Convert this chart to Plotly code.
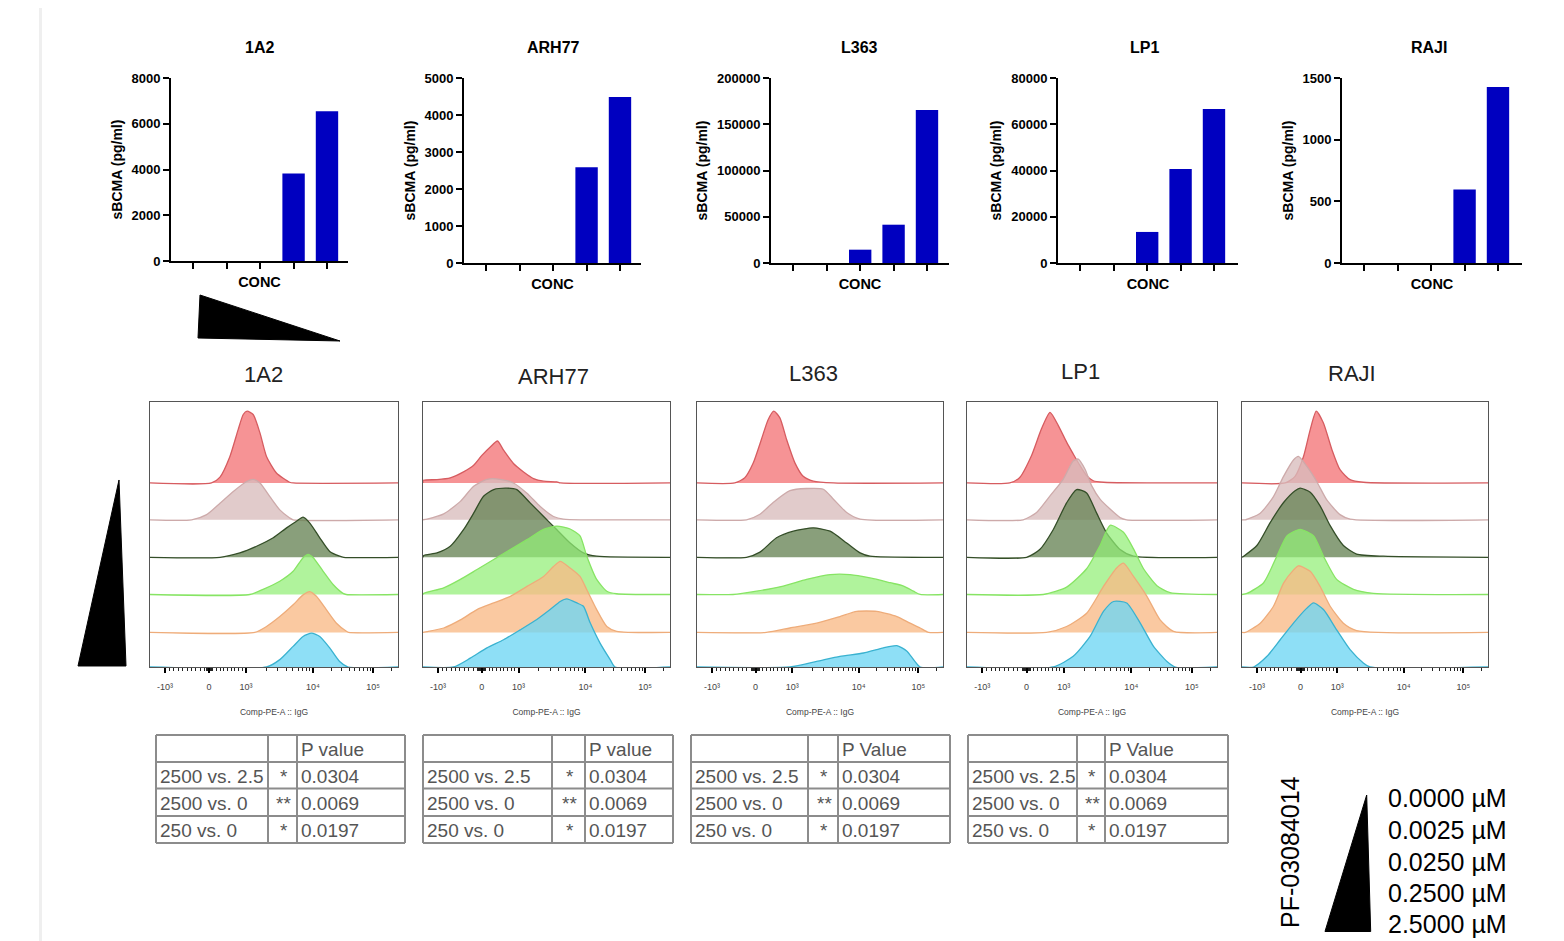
import math
import plotly.graph_objects as go

W, H = 1564, 941          # target page size (pixels)
BODY = 8                  # default page body margin in the browser
FW, FH = W - BODY, H - BODY
FONT = "Liberation Sans, Arial, sans-serif"

# ---------------- data: sBCMA bar charts ----------------
CELL_LINES = ["1A2", "ARH77", "L363", "LP1", "RAJI"]
CONC_CATEGORIES = ["2.5 µM", "0.25 µM", "0.025 µM", "0.0025 µM", "0 µM"]
SBCMA_1A2 = [0, 0, 0, 3830, 6550]
SBCMA_ARH77 = [0, 0, 0, 2590, 4486]
SBCMA_L363 = [0, 0, 14400, 41400, 165400]
SBCMA_LP1 = [0, 0, 13430, 40700, 66570]
SBCMA_RAJI = [0, 0, 0, 595, 1427]
SBCMA = [SBCMA_1A2, SBCMA_ARH77, SBCMA_L363, SBCMA_LP1, SBCMA_RAJI]
BAR_Y_MAX = [8000, 5000, 200000, 80000, 1500]
BAR_Y_STEP = [2000, 1000, 50000, 20000, 500]

# ---------------- data: flow histograms (display channel 0-1024, relative height) ----------------
# rows top->bottom: red, rosy, dark green, light green, orange, cyan
X_1A2 = [
    [254, 289, 330, 364, 385, 401, 426, 454, 481, 522, 577, 591],
    [172, 234, 289, 344, 399, 426, 454, 495, 536, 577, 591],
    [289, 371, 440, 509, 564, 605, 632, 660, 701, 742, 783, 800],
    [412, 467, 536, 591, 632, 653, 674, 715, 756, 797, 810],
    [433, 481, 536, 591, 632, 660, 687, 728, 770, 811, 820],
    [481, 536, 591, 632, 667, 701, 742, 783, 818],
]
Y_1A2 = [
    [0, 0.16, 0.72, 1.45, 1.86, 1.95, 1.86, 1.36, 0.72, 0.27, 0.02, 0],
    [0, 0.14, 0.45, 0.77, 1.04, 1.10, 1.0, 0.63, 0.27, 0.05, 0],
    [0, 0.12, 0.30, 0.53, 0.80, 0.98, 1.09, 0.93, 0.53, 0.16, 0.03, 0],
    [0, 0.14, 0.36, 0.63, 1.0, 1.09, 1.0, 0.63, 0.27, 0.03, 0],
    [0, 0.16, 0.43, 0.75, 1.02, 1.11, 0.98, 0.62, 0.25, 0.03, 0],
    [0, 0.2, 0.56, 0.83, 0.92, 0.83, 0.52, 0.15, 0],
]
X_ARH77 = [
    [0, 58, 113, 168, 210, 244, 279, 309, 334, 375, 417, 458, 500, 555, 570],
    [17, 86, 155, 210, 265, 320, 375, 431, 486, 541, 582],
    [3, 58, 113, 168, 210, 251, 293, 348, 389, 444, 500, 555, 610, 665, 720],
    [3, 86, 155, 224, 293, 362, 431, 500, 555, 610, 651, 679, 720, 762, 803],
    [17, 86, 155, 224, 293, 362, 431, 500, 541, 569, 610, 651, 679, 720, 762, 803],
    [127, 196, 265, 334, 403, 472, 527, 569, 596, 638, 665, 693, 734, 776, 796],
]
Y_ARH77 = [
    [0.07, 0.09, 0.14, 0.30, 0.48, 0.75, 0.98, 1.14, 0.89, 0.53, 0.30, 0.12, 0.05, 0.03, 0],
    [0.02, 0.16, 0.5, 0.91, 1.1, 1.1, 1.0, 0.72, 0.36, 0.09, 0.02],
    [0.05, 0.12, 0.30, 0.75, 1.2, 1.66, 1.84, 1.88, 1.84, 1.48, 1.11, 0.75, 0.39, 0.12, 0.03],
    [0.03, 0.18, 0.41, 0.68, 0.95, 1.22, 1.49, 1.77, 1.86, 1.78, 1.59, 1.04, 0.41, 0.09, 0.02],
    [0.02, 0.12, 0.34, 0.62, 0.80, 0.98, 1.25, 1.52, 1.79, 1.93, 1.75, 1.52, 1.16, 0.62, 0.16, 0.03],
    [0, 0.24, 0.52, 0.74, 1.01, 1.29, 1.56, 1.78, 1.85, 1.74, 1.65, 1.2, 0.65, 0.2, 0],
]
X_L363 = [
    [157, 199, 234, 268, 296, 320, 345, 373, 408, 442, 484, 568],
    [206, 262, 317, 387, 456, 526, 568, 623, 679],
    [206, 262, 331, 401, 484, 554, 623, 679, 720],
    [150, 248, 359, 456, 554, 637, 720, 804, 860, 901, 929],
    [289, 387, 498, 595, 665, 748, 832, 887, 929, 964],
    [387, 498, 595, 693, 776, 832, 874, 929],
]
Y_L363 = [
    [0, 0.14, 0.54, 1.18, 1.72, 1.95, 1.77, 1.18, 0.54, 0.18, 0.05, 0],
    [0, 0.15, 0.47, 0.79, 0.85, 0.83, 0.56, 0.2, 0.02],
    [0, 0.14, 0.53, 0.71, 0.80, 0.71, 0.39, 0.12, 0.03],
    [0, 0.09, 0.23, 0.41, 0.54, 0.54, 0.45, 0.32, 0.23, 0.09, 0],
    [0, 0.12, 0.25, 0.43, 0.57, 0.57, 0.43, 0.25, 0.12, 0],
    [0, 0.15, 0.29, 0.38, 0.52, 0.58, 0.43, 0],
]
X_LP1 = [
    [175, 216, 264, 305, 340, 374, 408, 435, 463, 490, 517, 559],
    [230, 285, 340, 394, 435, 456, 483, 511, 545, 586, 627, 654],
    [244, 298, 353, 408, 449, 490, 531, 572, 627, 682],
    [312, 408, 490, 545, 586, 641, 682, 723, 778, 832],
    [326, 408, 490, 559, 613, 641, 682, 737, 791, 846],
    [353, 435, 504, 559, 600, 654, 709, 764, 819, 853],
]
Y_LP1 = [
    [0, 0.15, 0.74, 1.47, 1.92, 1.56, 1.11, 0.79, 0.47, 0.2, 0.06, 0.02],
    [0, 0.2, 0.65, 1.1, 1.6, 1.65, 1.38, 0.92, 0.56, 0.29, 0.06, 0],
    [0, 0.21, 0.75, 1.48, 1.84, 1.75, 1.2, 0.66, 0.21, 0.03],
    [0, 0.2, 0.70, 1.33, 1.88, 1.69, 1.24, 0.70, 0.24, 0.05],
    [0, 0.16, 0.52, 1.25, 1.75, 1.88, 1.52, 0.98, 0.34, 0.03],
    [0, 0.29, 0.83, 1.51, 1.78, 1.74, 1.2, 0.56, 0.15, 0],
]
X_RAJI = [
    [180, 221, 256, 284, 309, 339, 374, 408, 450, 505],
    [14, 76, 131, 173, 215, 235, 270, 311, 353, 408, 450],
    [7, 62, 118, 173, 221, 242, 284, 325, 367, 422, 477, 588],
    [21, 90, 145, 187, 242, 298, 339, 394, 464, 547],
    [14, 76, 131, 173, 215, 235, 284, 325, 367, 422, 477],
    [48, 104, 159, 215, 270, 298, 339, 394, 450, 505, 533],
]
Y_RAJI = [
    [0, 0.18, 0.72, 1.45, 1.95, 1.63, 0.91, 0.36, 0.09, 0.02],
    [0, 0.18, 0.63, 1.18, 1.63, 1.72, 1.45, 1.04, 0.54, 0.14, 0.02],
    [0.03, 0.32, 0.95, 1.49, 1.81, 1.88, 1.77, 1.4, 0.86, 0.32, 0.09, 0.03],
    [0.03, 0.32, 1.04, 1.59, 1.77, 1.59, 1.04, 0.41, 0.14, 0.03],
    [0, 0.25, 0.71, 1.34, 1.70, 1.81, 1.66, 1.25, 0.71, 0.25, 0.05],
    [0, 0.29, 0.74, 1.2, 1.6, 1.74, 1.56, 1.01, 0.47, 0.11, 0],
]
FLOW_X = [X_1A2, X_ARH77, X_L363, X_LP1, X_RAJI]
FLOW_Y = [Y_1A2, Y_ARH77, Y_L363, Y_LP1, Y_RAJI]
FLOW_TICK_CHANNELS = [62, 244, 396, 673, 921]
FLOW_TICK_TEXT = ["-10³", "0", "10³", "10⁴", "10⁵"]

# ---------------- data: tables & legend ----------------
TABLE_HEADERS = ["P value", "P value", "P Value", "P Value"]
COMPARISONS = ["2500 vs. 2.5", "2500 vs. 0", "250 vs. 0"]
SIGNIFICANCE = ["*", "**", "*"]
P_VALUES = ["0.0304", "0.0069", "0.0197"]
COMPOUND = "PF-03084014"
CONC_LABELS = ["0.0000 µM", "0.0025 µM", "0.0250 µM", "0.2500 µM", "2.5000 µM"]

# ---------------- styling / layout (page pixels) ----------------
BAR_BOXES = [(171, 348, 78, 261), (464, 641, 78, 263), (771, 949, 78, 263),
             (1058, 1238, 78, 263), (1342, 1522, 78, 263)]
BAR_TITLE_X = [259, 553, 859, 1144, 1429]
FLOW_BOXES = [(150, 398), (423, 670), (697, 943), (967, 1217), (1242, 1488)]
FLOW_TOP, FLOW_BOTTOM = 402, 667
FLOW_TITLE_POS = [(264, 375), (553, 376), (813, 373), (1080, 372), (1352, 373)]
ROW_OFFSETS = [5.0, 4.0, 2.98, 1.97, 0.94, 0.0]
ROW_LINE = ["rgb(214,92,96)", "rgb(205,170,170)", "rgb(52,78,40)",
            "rgb(135,228,100)", "rgb(238,172,122)", "rgb(58,178,208)"]
ROW_FILL = ["rgba(244,128,130,0.85)", "rgba(216,188,188,0.78)", "rgba(104,132,86,0.78)",
            "rgba(146,238,118,0.72)", "rgba(249,186,134,0.78)", "rgba(110,214,244,0.78)"]
TABLE_COLS = [(156, 268, 297, 405), (423, 552, 585, 673), (691, 808, 838, 950), (968, 1077, 1105, 1228)]
TABLE_ROWS = [735, 762, 788.5, 816, 843]


def fx(x):
    return (x - BODY) / FW


def fy(y):
    return 1 - (y - BODY) / FH


fig = go.Figure()
layout = dict(
    width=FW, height=FH, margin=dict(l=0, r=0, t=0, b=0, autoexpand=False),
    paper_bgcolor="white", plot_bgcolor="white", showlegend=False,
    font=dict(family=FONT, color="black"),
)
annotations = []
shapes = []

# ---------------- bar charts ----------------
for i, name in enumerate(CELL_LINES):
    n = i + 1
    ax = "" if n == 1 else str(n)
    x0, x1, yt, yb = BAR_BOXES[i]
    span = (x1 - x0) / 33.4
    fig.add_trace(go.Bar(x=CONC_CATEGORIES, y=SBCMA[i], marker=dict(color="#0000c0", line=dict(width=0)),
                         width=0.67, xaxis="x" + ax, yaxis="y" + ax, hoverinfo="y"))
    layout["xaxis" + ax] = dict(
        domain=[fx(x0), fx(x1)], anchor="y" + ax, range=[-0.67, span - 0.67], type="category",
        showline=True, linecolor="black", linewidth=1.8, ticks="outside", ticklen=6,
        tickwidth=1.8, tickcolor="black", showticklabels=False, showgrid=False, zeroline=False,
        title=dict(text="CONC", standoff=9, font=dict(size=14.5, weight="bold", family=FONT)),
        fixedrange=True,
    )
    layout["yaxis" + ax] = dict(
        domain=[fy(yb), fy(yt)], anchor="x" + ax, range=[0, BAR_Y_MAX[i]],
        tickvals=list(range(0, BAR_Y_MAX[i] + 1, BAR_Y_STEP[i])), tickformat="d",
        showline=True, linecolor="black", linewidth=1.8, ticks="outside", ticklen=6,
        tickwidth=1.8, tickcolor="black", showgrid=False, zeroline=False,
        tickfont=dict(size=13, weight="bold", family=FONT),
        title=dict(text="sBCMA (pg/ml)", standoff=6, font=dict(size=14, weight="bold", family=FONT)),
        fixedrange=True,
    )
    annotations.append(dict(text=name, x=fx(BAR_TITLE_X[i]), y=fy(48), xref="paper", yref="paper",
                            showarrow=False, font=dict(size=16, weight="bold", family=FONT),
                            xanchor="center", yanchor="middle"))

# ---------------- flow histograms ----------------
minor_vals = []
for v in range(-900, 0, 100):
    minor_vals.append(244 + v / 1000 * (244 - 62))
for v in range(100, 1000, 100):
    minor_vals.append(244 + v / 1000 * (396 - 244))
for v in list(range(-90, 0, 15)) + list(range(15, 100, 15)):
    minor_vals.append(244 + v / 100 * 14)
for k in range(2, 10):
    minor_vals.append(396 + math.log10(k) * 277)
    minor_vals.append(673 + math.log10(k) * 248)
minor_vals.append(921 + math.log10(2) * 248)

for i, name in enumerate(CELL_LINES):
    n = i + 6
    ax = str(n)
    x0, x1 = FLOW_BOXES[i]
    for r in range(6):
        off = ROW_OFFSETS[r]
        xs = [0] + FLOW_X[i][r] + [1024]
        ys = [off] + [off + h for h in FLOW_Y[i][r]] + [off]
        fig.add_trace(go.Scatter(
            x=xs, y=ys, mode="lines", xaxis="x" + ax, yaxis="y" + ax,
            line=dict(color=ROW_LINE[r], width=1.3, shape="spline", smoothing=0.6),
            fill="toself", fillcolor=ROW_FILL[r], hoverinfo="skip"))
    layout["xaxis" + ax] = dict(
        domain=[fx(x0), fx(x1)], anchor="y" + ax, range=[0, 1024],
        showline=True, mirror=True, linecolor="#555555", linewidth=1.3,
        tickmode="array", tickvals=FLOW_TICK_CHANNELS, ticktext=FLOW_TICK_TEXT,
        ticks="outside", ticklen=5, tickwidth=1.5, tickcolor="black",
        ticklabelstandoff=6,
        tickfont=dict(size=9, color="#444444", family=FONT),
        minor=dict(tickmode="array", tickvals=minor_vals, ticks="outside", ticklen=3,
                   tickwidth=1, tickcolor="#222222", showgrid=False),
        showgrid=False, zeroline=False, fixedrange=True,
        title=dict(text="Comp-PE-A :: IgG", standoff=18, font=dict(size=8.5, color="#444444", family=FONT)),
    )
    layout["yaxis" + ax] = dict(
        domain=[fy(FLOW_BOTTOM), fy(FLOW_TOP)], anchor="x" + ax, range=[0, 7.2],
        showline=True, mirror=True, linecolor="#555555", linewidth=1.3,
        showticklabels=False, ticks="", showgrid=False, zeroline=False, fixedrange=True,
    )
    tx, ty = FLOW_TITLE_POS[i]
    annotations.append(dict(text=name, x=fx(tx), y=fy(ty), xref="paper", yref="paper",
                            showarrow=False, font=dict(size=22, color="#222222", family=FONT),
                            xanchor="center", yanchor="middle"))

# ---------------- tables ----------------
tcolor = "#555555"
for t, (c0, c1, c2, c3) in enumerate(TABLE_COLS):
    for yv in TABLE_ROWS:
        shapes.append(dict(type="line", xref="paper", yref="paper", x0=fx(c0), x1=fx(c3),
                           y0=fy(yv), y1=fy(yv), line=dict(color="#8c8c8c", width=2)))
    for xv in (c0, c1, c2, c3):
        shapes.append(dict(type="line", xref="paper", yref="paper", x0=fx(xv), x1=fx(xv),
                           y0=fy(TABLE_ROWS[0]), y1=fy(TABLE_ROWS[-1]), line=dict(color="#8c8c8c", width=2)))
    rows = [("", "", TABLE_HEADERS[t])] + list(zip(COMPARISONS, SIGNIFICANCE, P_VALUES))
    for r, (a, b, c) in enumerate(rows):
        yc = (TABLE_ROWS[r] + TABLE_ROWS[r + 1]) / 2 + 1
        for txt, xpos, anc in ((a, c0 + 2, "left"), (b, (c1 + c2) / 2 + 1, "center"), (c, c2 + 2, "left")):
            if txt:
                annotations.append(dict(text=txt, x=fx(xpos), y=fy(yc), xref="paper", yref="paper",
                                        showarrow=False, xanchor=anc, yanchor="middle",
                                        font=dict(size=19, color=tcolor, family=FONT)))

# ---------------- legend block ----------------
annotations.append(dict(text=COMPOUND, x=fx(1290), y=fy(852), xref="paper", yref="paper",
                        showarrow=False, textangle=-90, xanchor="center", yanchor="middle",
                        font=dict(size=25, color="black", family=FONT)))
for k, lab in enumerate(CONC_LABELS):
    yc = [798, 830, 862, 893, 924][k]
    annotations.append(dict(text=lab, x=fx(1386), y=fy(yc), xref="paper", yref="paper",
                            showarrow=False, xanchor="left", yanchor="middle",
                            font=dict(size=25, color="black", family=FONT)))


def tri(pts):
    p = "M " + " L ".join(f"{fx(x):.5f},{fy(y):.5f}" for x, y in pts) + " Z"
    return dict(type="path", xref="paper", yref="paper", path=p,
                fillcolor="black", line=dict(color="black", width=1))


shapes.append(tri([(1366.7, 795), (1325, 931.5), (1370.7, 931.5)]))
shapes.append(tri([(200, 295), (198, 338), (340, 341)]))
shapes.append(tri([(119, 480), (78, 666), (126, 666)]))

# page edge decoration
shapes.append(dict(type="rect", xref="paper", yref="paper", x0=fx(39), x1=fx(42), y0=0, y1=1,
                   fillcolor="#efefef", line=dict(width=0)))

layout["annotations"] = annotations
layout["shapes"] = shapes
fig.update_layout(**layout)
fig.write_html("out.html")
